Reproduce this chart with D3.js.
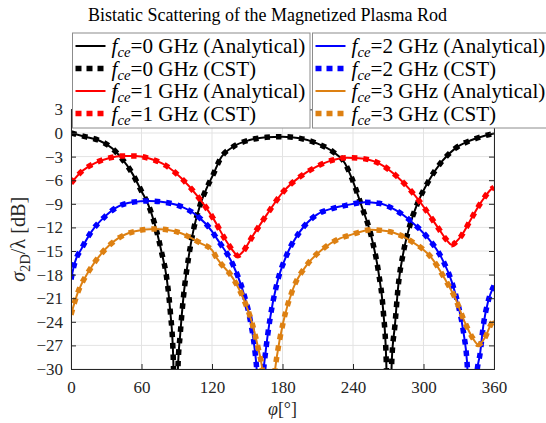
<!DOCTYPE html>
<html>
<head>
<meta charset="utf-8">
<script src="https://cdn.jsdelivr.net/npm/d3@7"></script>
<style>
  html, body { margin: 0; padding: 0; background: #fff; }
  svg { display: block; }
</style>
</head>
<body>
<div id="chart"></div>
<script>
// ---------- data ----------
const xTicks = [0, 60, 120, 180, 240, 300, 360];
const yTicks = [3, 0, -3, -6, -9, -12, -15, -18, -21, -24, -27, -30];

const fce0Phi = [0, 12, 23, 35, 43, 52, 60, 66, 71.5, 77, 81.5, 84.5, 87, 89, 91, 93, 95.6, 100, 104, 110, 115.5, 121, 127, 138, 152, 166, 180, 195, 209, 223, 233, 239, 247, 256, 261.6, 265.8, 268.3, 270.5, 273, 275.7, 278.6, 283, 288.5, 295.6, 304, 315.5, 327, 341, 352, 360];
const fce0Val = [0, -0.47, -0.89, -1.95, -3.2, -5.1, -7.4, -9.2, -11.7, -15.1, -18.5, -22.7, -28.5, -45, -30, -25.5, -21, -15.9, -12.5, -9.1, -7.0, -5.3, -3.3, -1.75, -0.9, -0.55, -0.47, -0.68, -1.3, -2.4, -3.8, -5.76, -9.15, -13.4, -17.6, -22.7, -29, -45, -29, -24.4, -19.3, -15.1, -11.7, -8.7, -6.2, -3.64, -1.95, -0.89, -0.35, -0.05];

const fce1Phi = [0, 9, 20, 32, 44, 55, 66, 80, 94, 108, 120, 132, 138, 142, 145, 155, 166.5, 180.7, 195, 209, 223, 235, 245, 262, 276, 290, 301, 312.6, 319.7, 324, 328, 332.5, 341, 349.5, 358, 360];
const fce1Val = [-6.4, -4.9, -3.85, -3.2, -2.92, -2.92, -3.22, -4.07, -5.76, -8.1, -10.6, -13.7, -15.0, -15.6, -15.3, -13.0, -10.4, -7.46, -5.55, -4.28, -3.43, -3.15, -3.2, -3.85, -5.34, -7.46, -9.57, -12.1, -13.6, -14.2, -13.8, -13.0, -10.8, -8.7, -7.1, -6.9];

const fce2Phi = [0, 3.4, 9, 17.6, 29, 40, 52, 66, 80, 94, 108, 120, 124, 138, 146.6, 152.3, 156.6, 158, 161, 164, 165, 169.4, 175, 183.6, 195, 209, 223, 234, 250, 262, 276, 290, 304, 315.5, 324, 329.6, 334, 337, 341, 345.8, 348, 351, 355, 360];
const fce2Val = [-18.6, -16.4, -14.7, -12.5, -10.6, -9.36, -8.81, -8.64, -8.81, -9.36, -10.6, -12.5, -13.4, -16.8, -20.2, -23.6, -27.8, -30, -42, -30, -28.6, -23.6, -19.3, -15.5, -12.5, -10.4, -9.57, -9.2, -8.8, -8.94, -9.78, -11.3, -13.4, -15.9, -18.9, -21.9, -25.3, -29, -42, -30, -28.2, -24.4, -21.4, -19.4];

const fce3Phi = [0, 6, 15, 26, 40, 54.5, 71.5, 88.5, 103, 110, 120, 124, 138, 146.6, 153.8, 159.4, 162.3, 167, 172, 175, 180.7, 189, 200.6, 214.7, 229, 237, 256, 270, 290, 307, 318, 327, 335, 342, 346.6, 352, 358, 360];
const fce3Val = [-23.1, -20.2, -17.6, -15.3, -13.4, -12.5, -12.2, -12.5, -13.4, -14.0, -14.9, -15.9, -18.5, -21.0, -24, -27.4, -29.5, -36, -32, -28.6, -24, -19.8, -16.8, -14.7, -13.4, -13.0, -12.3, -12.5, -13.8, -15.9, -18.5, -21.0, -24.0, -26.1, -26.9, -26.1, -24.2, -23.9];

const seriesNames = ["0", "1", "2", "3"];
const seriesColors = ["#000000", "#ff0000", "#0000ff", "#dd8012"];
const seriesPhi = [fce0Phi, fce1Phi, fce2Phi, fce3Phi];
const seriesVal = [fce0Val, fce1Val, fce2Val, fce3Val];

// ---------- layout ----------
const W = 546, H = 423;
const pL = 71, pR = 494, pB = 369;
const yMin = -30, yMax = 3;
const pT = pB - (yMax - yMin) * (236 / 30);
const serif = "'Liberation Serif', 'Times New Roman', serif";
const axisColor = "#262626";

const svg = d3.select("#chart").append("svg").attr("width", W).attr("height", H)
  .style("font-family", serif);
svg.append("rect").attr("width", W).attr("height", H).attr("fill", "#fff");

const x = d3.scaleLinear().domain([0, 360]).range([pL, pR]);
const y = d3.scaleLinear().domain([yMin, yMax]).range([pB, pT]);

// fit a text element to a target width by scaling its font sizes
function fitWidth(textSel, target) {
  const w = textSel.node().getComputedTextLength();
  const k = target / w;
  textSel.attr("font-size", +textSel.attr("font-size") * k);
  textSel.selectAll("tspan").each(function () {
    const t = d3.select(this);
    if (t.attr("font-size")) t.attr("font-size", +t.attr("font-size") * k);
    if (t.attr("dy")) t.attr("dy", +t.attr("dy") * k);
  });
  return k;
}

// grid
const grid = svg.append("g");
grid.selectAll("line.gx").data(xTicks).enter().append("line")
  .attr("x1", d => x(d)).attr("x2", d => x(d)).attr("y1", pT).attr("y2", pB)
  .attr("stroke", "#e3e3e3").attr("stroke-width", 1);
grid.selectAll("line.gy").data(yTicks).enter().append("line")
  .attr("x1", pL).attr("x2", pR).attr("y1", d => y(d)).attr("y2", d => y(d))
  .attr("stroke", "#e3e3e3").attr("stroke-width", 1);

// clip
svg.append("clipPath").attr("id", "clip").append("rect")
  .attr("x", pL).attr("y", pT).attr("width", pR - pL).attr("height", pB - pT);

const line = d3.line().x(d => x(d[0])).y(d => y(d[1])).curve(d3.curveMonotoneX);
const plot = svg.append("g").attr("clip-path", "url(#clip)");
seriesNames.forEach((n, i) => {
  const pts = seriesPhi[i].map((p, k) => [p, seriesVal[i][k]]);
  plot.append("path").attr("d", line(pts)).attr("fill", "none")
    .attr("stroke", seriesColors[i]).attr("stroke-width", 2);
  plot.append("path").attr("d", line(pts)).attr("fill", "none")
    .attr("stroke", seriesColors[i]).attr("stroke-width", 5.5)
    .attr("stroke-dasharray", "5.5,6");
});

// axes (MATLAB-style box with inward ticks)
const fs = 17;
const gL = svg.append("g").attr("transform", `translate(${pL},0)`)
  .call(d3.axisLeft(y).tickValues(yTicks).tickSize(-5).tickPadding(8).tickFormat(d3.format("d")));
const gR = svg.append("g").attr("transform", `translate(${pR},0)`)
  .call(d3.axisRight(y).tickValues(yTicks).tickSize(-5).tickFormat(""));
const gB = svg.append("g").attr("transform", `translate(0,${pB})`)
  .call(d3.axisBottom(x).tickValues(xTicks).tickSize(-5).tickPadding(9).tickFormat(d3.format("d")));
const gT = svg.append("g").attr("transform", `translate(0,${pT})`)
  .call(d3.axisTop(x).tickValues(xTicks).tickSize(-5).tickFormat(""));
[gL, gR, gB, gT].forEach(g => {
  g.attr("font-family", serif).attr("font-size", fs);
  g.select(".domain").attr("stroke", axisColor).attr("stroke-width", 1);
  g.selectAll(".tick line").attr("stroke", axisColor);
  g.selectAll(".tick text").attr("fill", axisColor);
});
gB.selectAll(".tick text").attr("dy", "0.9em");

// axis labels
const yl = svg.append("text").attr("transform", `translate(25,${(pT + pB) / 2}) rotate(-90)`)
  .attr("text-anchor", "middle").attr("font-size", 20).attr("fill", axisColor);
yl.append("tspan").attr("font-style", "italic").text("σ");
yl.append("tspan").attr("font-size", 14).attr("dy", 5).text("2D");
yl.append("tspan").attr("dy", -5).text("/λ [dB]");
fitWidth(yl, 85);

const xl = svg.append("text").attr("x", (pL + pR) / 2).attr("y", 415)
  .attr("text-anchor", "middle").attr("font-size", 20).attr("fill", axisColor);
xl.append("tspan").attr("font-style", "italic").text("φ");
xl.append("tspan").text("[°]");
fitWidth(xl, 29);

// title
const title = svg.append("text").attr("x", 267.5).attr("y", 21).attr("text-anchor", "middle")
  .attr("font-size", 19).attr("fill", "#000").text("Bistatic Scattering of the Magnetized Plasma Rod");
fitWidth(title, 359);

// legends
const legendTypes = ["Analytical", "CST"];
const boxes = [
  { x0: 72.5, x1: 310, idx: [0, 1] },
  { x0: 312.5, x1: 560, idx: [2, 3] }
];
const rowY = [46, 68.5, 91, 113.5];
let legendK = null;
boxes.forEach(b => {
  const g = svg.append("g");
  g.append("rect").attr("x", b.x0).attr("y", 33).attr("width", b.x1 - b.x0).attr("height", 95)
    .attr("fill", "#fff").attr("stroke", "#8c8c8c").attr("stroke-width", 1);
  let r = 0;
  b.idx.forEach(si => {
    legendTypes.forEach(t => {
      const yy = rowY[r++];
      const lx = b.x0 + 3;
      const ln = g.append("line").attr("x1", lx).attr("x2", lx + 30).attr("y1", yy).attr("y2", yy)
        .attr("stroke", seriesColors[si]);
      if (t === "CST") ln.attr("stroke-width", 5.5).attr("stroke-dasharray", "6,5");
      else ln.attr("stroke-width", 2);
      const tx = g.append("text").attr("x", lx + 36).attr("y", yy + 7).attr("font-size", 20).attr("fill", "#000");
      tx.append("tspan").attr("font-style", "italic").text("f");
      tx.append("tspan").attr("font-style", "italic").attr("font-size", 14).attr("dy", 4).text("ce");
      tx.append("tspan").attr("dy", -4).text("=" + seriesNames[si] + " GHz (" + t + ")");
      if (legendK === null) {
        legendK = fitWidth(tx, 194);
      } else {
        tx.attr("font-size", 20 * legendK);
        tx.selectAll("tspan").each(function () {
          const s = d3.select(this);
          if (s.attr("font-size")) s.attr("font-size", +s.attr("font-size") * legendK);
          if (s.attr("dy")) s.attr("dy", +s.attr("dy") * legendK);
        });
      }
    });
  });
});
</script>
</body>
</html>
